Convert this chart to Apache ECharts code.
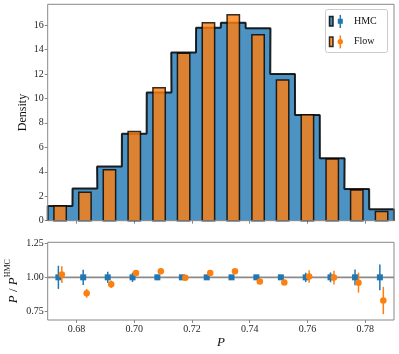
<!DOCTYPE html>
<html>
<head>
<meta charset="utf-8">
<script src="https://cdn.jsdelivr.net/npm/echarts@6/dist/echarts.min.js"></script>
<style>
  html, body { margin: 0; padding: 0; background: #fff; }
  #chart { width: 399px; height: 354px; }
</style>
</head>
<body>
<div id="chart"></div>
<script>
// histogram bins (P) and densities
var binCenters = [0.6743, 0.6829, 0.6914, 0.7000, 0.7086, 0.7171, 0.7257,
                  0.7343, 0.7429, 0.7514, 0.7600, 0.7686, 0.7771, 0.7857];
var binWidth = 0.00857;
var hmcDensity  = [1.20, 2.64, 4.44, 7.11, 10.47, 13.76, 15.78, 16.19, 15.73, 11.99, 8.64, 5.10, 2.59, 0.93];
var flowDensity = [1.20, 2.32, 4.17, 7.30, 10.87, 13.68, 16.19, 16.84, 15.21, 11.50, 8.67, 5.04, 2.51, 0.76];

// ratio panel
var hmcRatio  = [1.00, 1.00, 1.00, 1.00, 1.00, 1.00, 1.00, 1.00, 1.00, 1.00, 1.00, 1.00, 1.00, 1.00];
var hmcErr    = [0.085, 0.056, 0.041, 0.034, 0.020, 0.015, 0.012, 0.012, 0.014, 0.018, 0.034, 0.036, 0.058, 0.095];
var flowRatio = [1.020, 0.883, 0.949, 1.031, 1.044, 0.997, 1.031, 1.044, 0.970, 0.962, 1.006, 0.998, 0.961, 0.830];
var flowErr   = [0.061, 0.032, 0.027, 0.020, 0.017, 0.012, 0.012, 0.012, 0.014, 0.015, 0.046, 0.050, 0.073, 0.100];

var xTicks = [0.68, 0.70, 0.72, 0.74, 0.76, 0.78];
var densityTicks = [0, 2, 4, 6, 8, 10, 12, 14, 16];
var ratioTicks = [0.75, 1.00, 1.25];

var FONT = 'Liberation Serif';
var BLUE = '#1f77b4', ORANGE = '#ff7f0e';
var dx = 0.0006; // side offset of the two point sets

// outline of the stepfilled HMC histogram
var hmcStep = [[binCenters[0] - binWidth / 2, 0]];
hmcDensity.forEach(function (h, i) {
  hmcStep.push([binCenters[i] - binWidth / 2, h]);
  hmcStep.push([binCenters[i] + binWidth / 2, h]);
});
hmcStep.push([binCenters[binCenters.length - 1] + binWidth / 2, 0]);

var flowBars = binCenters.map(function (c, i) { return [c, flowDensity[i]]; });
var hmcPts = binCenters.map(function (c, i) { return [c - dx, hmcRatio[i], hmcErr[i]]; });
var flowPts = binCenters.map(function (c, i) { return [c + dx, flowRatio[i], flowErr[i]]; });

function errBar(color) {
  return function (params, api) {
    var x = api.value(0), y = api.value(1), e = api.value(2);
    var a = api.coord([x, y + e]);
    var b = api.coord([x, y - e]);
    return {
      type: 'line',
      shape: { x1: a[0], y1: a[1], x2: b[0], y2: b[1] },
      style: { stroke: color, lineWidth: 1.5 }
    };
  };
}

var tickStyle = { show: true, length: 3, lineStyle: { color: '#888', width: 1 } };
var labelStyle = { fontFamily: FONT, fontSize: 10, color: '#262626' };

function xAxisFor(grid, showLabels) {
  return {
    type: 'value', gridIndex: grid, min: 0.67, max: 0.79,
    axisLine: { show: false }, splitLine: { show: false },
    axisTick: Object.assign({ customValues: xTicks }, tickStyle),
    axisLabel: Object.assign({
      show: showLabels, margin: 4, customValues: xTicks,
      formatter: function (v) { return v.toFixed(2); }
    }, labelStyle),
    name: showLabels ? 'P' : '',
    nameLocation: 'middle', nameGap: 16, nameMoveOverlap: false,
    nameTextStyle: { fontFamily: FONT, fontSize: 13, fontStyle: 'italic', color: '#111' }
  };
}

var chart = echarts.init(document.getElementById('chart'), null, { renderer: 'canvas' });

var option = {
  animation: false,
  backgroundColor: '#fff',
  grid: [
    { left: 47.7, top: 4.3, right: 5, height: 216.4, show: true, z: 10,
      outerBoundsMode: 'none', containLabel: false,
      backgroundColor: 'transparent', borderColor: '#888', borderWidth: 1 },
    { left: 47.7, top: 242.3, right: 5, height: 77.7, show: true, z: 10,
      outerBoundsMode: 'none', containLabel: false,
      backgroundColor: 'transparent', borderColor: '#888', borderWidth: 1 }
  ],
  xAxis: [xAxisFor(0, false), xAxisFor(1, true)],
  yAxis: [
    {
      type: 'value', gridIndex: 0, min: 0, max: 17.69,
      axisLine: { show: false }, splitLine: { show: false },
      axisTick: Object.assign({ customValues: densityTicks }, tickStyle),
      axisLabel: Object.assign({ margin: 4, customValues: densityTicks }, labelStyle),
      name: 'Density', nameLocation: 'middle', nameGap: 19, nameRotate: 90,
      nameMoveOverlap: false,
      nameTextStyle: { fontFamily: FONT, fontSize: 12, color: '#111' }
    },
    {
      type: 'value', gridIndex: 1, min: 0.687, max: 1.257,
      axisLine: { show: false }, splitLine: { show: false },
      axisTick: Object.assign({ customValues: ratioTicks }, tickStyle),
      axisLabel: Object.assign({
        margin: 4, customValues: ratioTicks,
        formatter: function (v) { return v.toFixed(2); }
      }, labelStyle),
      name: '{i|P}{r| / }{i|P}{s|HMC}', nameLocation: 'middle', nameGap: 28, nameRotate: 90,
      nameMoveOverlap: false,
      nameTextStyle: {
        rich: {
          i: { fontFamily: FONT, fontSize: 13, fontStyle: 'italic', color: '#111', lineHeight: 16, verticalAlign: 'bottom' },
          r: { fontFamily: FONT, fontSize: 13, color: '#111', lineHeight: 16, verticalAlign: 'bottom' },
          s: { fontFamily: FONT, fontSize: 8, color: '#111', lineHeight: 16, verticalAlign: 'top' }
        }
      }
    }
  ],
  series: [
    {
      // HMC stepfilled histogram
      type: 'line', xAxisIndex: 0, yAxisIndex: 0, data: hmcStep,
      symbol: 'none', clip: false, z: 2,
      lineStyle: { color: 'rgba(0,0,0,0.85)', width: 2 },
      areaStyle: { color: 'rgba(31,119,180,0.8)', opacity: 1 }
    },
    {
      // Flow bars
      type: 'custom', xAxisIndex: 0, yAxisIndex: 0, data: flowBars, z: 3,
      encode: { x: 0, y: 1 },
      renderItem: function (params, api) {
        var c = api.value(0), h = api.value(1);
        var p0 = api.coord([c - binWidth / 4, h]);
        var p1 = api.coord([c + binWidth / 4, 0]);
        return {
          type: 'rect',
          shape: { x: p0[0], y: p0[1], width: p1[0] - p0[0], height: p1[1] - p0[1] },
          style: { fill: 'rgba(255,127,14,0.8)', stroke: 'rgba(0,0,0,0.8)', lineWidth: 1.5 }
        };
      }
    },
    {
      // reference line at 1
      type: 'line', xAxisIndex: 1, yAxisIndex: 1, data: [[0.67, 1], [0.79, 1]],
      symbol: 'none', z: 1, lineStyle: { color: '#8a8a8a', width: 1.6 }
    },
    {
      type: 'custom', xAxisIndex: 1, yAxisIndex: 1, data: hmcPts, z: 3,
      encode: { x: 0, y: 1 }, renderItem: errBar(BLUE)
    },
    {
      type: 'scatter', xAxisIndex: 1, yAxisIndex: 1, data: hmcPts, z: 4,
      symbol: 'rect', symbolSize: 6, itemStyle: { color: BLUE, opacity: 1 }
    },
    {
      type: 'custom', xAxisIndex: 1, yAxisIndex: 1, data: flowPts, z: 5,
      encode: { x: 0, y: 1 }, renderItem: errBar(ORANGE)
    },
    {
      type: 'scatter', xAxisIndex: 1, yAxisIndex: 1, data: flowPts, z: 6,
      symbol: 'circle', symbolSize: 6.5, itemStyle: { color: ORANGE, opacity: 1 }
    }
  ],
  // legend box drawn by hand (patch + errorbar handles)
  graphic: [
    { type: 'rect', z: 20, shape: { x: 325.5, y: 9.5, width: 62, height: 43, r: 2 },
      style: { fill: 'rgba(255,255,255,0.8)', stroke: '#ccc', lineWidth: 1 } },
    { type: 'rect', z: 21, shape: { x: 329.5, y: 16.5, width: 3.5, height: 9.5 },
      style: { fill: 'rgba(31,119,180,0.8)', stroke: 'rgba(0,0,0,0.85)', lineWidth: 1.5 } },
    { type: 'line', z: 21, shape: { x1: 340.3, y1: 15, x2: 340.3, y2: 28 },
      style: { stroke: BLUE, lineWidth: 1.5 } },
    { type: 'rect', z: 22, shape: { x: 337.8, y: 18.8, width: 5, height: 5 },
      style: { fill: BLUE } },
    { type: 'text', z: 21, x: 354, y: 21.3,
      style: { text: 'HMC', fontFamily: FONT, fontSize: 10, fill: '#111', verticalAlign: 'middle' } },
    { type: 'rect', z: 21, shape: { x: 329.5, y: 36.9, width: 3.5, height: 9.5 },
      style: { fill: 'rgba(255,127,14,0.8)', stroke: 'rgba(0,0,0,0.8)', lineWidth: 1.5 } },
    { type: 'line', z: 21, shape: { x1: 340.3, y1: 35.4, x2: 340.3, y2: 48.4 },
      style: { stroke: ORANGE, lineWidth: 1.5 } },
    { type: 'circle', z: 22, shape: { cx: 340.3, cy: 41.7, r: 2.7 },
      style: { fill: ORANGE } },
    { type: 'text', z: 21, x: 354, y: 41.7,
      style: { text: 'Flow', fontFamily: FONT, fontSize: 10, fill: '#111', verticalAlign: 'middle' } }
  ]
};

chart.setOption(option);
</script>
</body>
</html>
